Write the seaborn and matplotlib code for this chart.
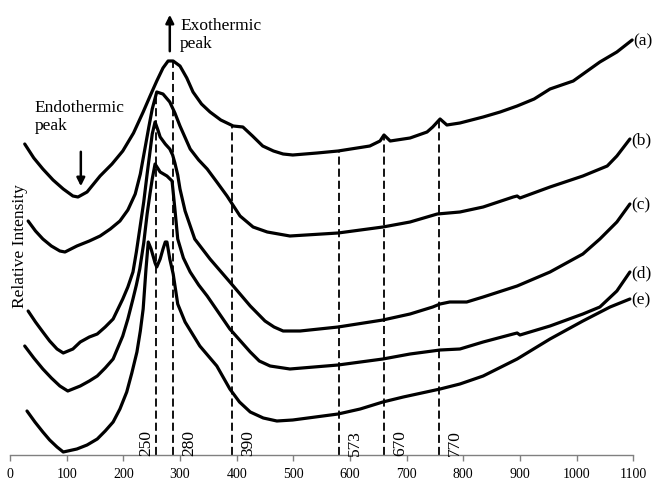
import numpy as np
import pandas as pd
import matplotlib
matplotlib.use("Agg")
import matplotlib.pyplot as plt
import seaborn as sns

# ── Data (temperature in °C, relative intensity in arbitrary units) ──
temp_a = [26, 42, 58, 76, 94, 111, 120, 136, 159, 180, 199, 218, 235, 248, 259, 270, 279, 288,
          300, 312, 323, 338, 353, 372, 394, 411, 428, 446, 465, 482, 499, 542, 579, 635, 653,
          660, 671, 706, 736, 746, 759, 771, 794, 835, 865, 895, 925, 953, 994, 1041, 1071, 1098]
int_a = [311, 297, 286, 275, 266, 259, 258, 263, 279, 291, 304, 322, 343, 360, 374, 387, 394, 394,
         389, 377, 363, 351, 343, 335, 329, 328, 319, 309, 304, 301, 300, 302, 304, 309, 314,
         320, 314, 317, 323, 328, 336, 330, 332, 338, 343, 349, 356, 366, 374, 393, 403, 415]

temp_b = [32, 45, 58, 73, 88, 97, 118, 140, 159, 177, 194, 208, 221, 230, 238, 245, 251, 259,
          270, 282, 291, 300, 318, 333, 348, 365, 383, 406, 429, 454, 494, 579, 658, 706, 754,
          794, 835, 888, 895, 900, 953, 1011, 1054, 1071, 1094]
int_b = [234, 224, 216, 209, 204, 203, 209, 214, 219, 226, 234, 245, 261, 281, 306, 328, 346, 363,
         361, 353, 342, 329, 306, 295, 286, 273, 259, 239, 228, 223, 219, 222, 228, 233, 241,
         243, 248, 258, 259, 257, 268, 279, 289, 299, 316]

temp_c = [32, 45, 58, 70, 83, 94, 111, 124, 140, 154, 168, 182, 199, 208, 217, 223, 229, 236,
          242, 247, 251, 256, 261, 265, 274, 282, 287, 291, 296, 300, 309, 326, 353, 388, 424,
          450, 466, 482, 512, 579, 658, 706, 746, 759, 776, 806, 835, 895, 953, 1011, 1041,
          1071, 1094]
int_c = [144, 133, 123, 114, 106, 102, 106, 113, 118, 121, 128, 136, 156, 168, 183, 203, 226, 253,
         281, 303, 321, 333, 325, 318, 311, 306, 300, 292, 280, 266, 244, 216, 196, 173, 149,
         134, 128, 124, 124, 128, 135, 141, 148, 151, 153, 153, 158, 169, 183, 201, 216,
         233, 251]

temp_d = [26, 42, 58, 73, 88, 102, 124, 140, 154, 168, 182, 199, 208, 217, 223, 229, 236, 242,
          247, 251, 256, 265, 277, 286, 291, 296, 306, 318, 333, 348, 388, 424, 440, 459, 494,
          579, 658, 706, 759, 794, 835, 888, 895, 900, 953, 1011, 1041, 1071, 1094]
int_d = [109, 97, 86, 77, 69, 64, 69, 74, 79, 87, 96, 119, 136, 156, 170, 186, 212, 241,
         261, 276, 291, 283, 279, 274, 246, 216, 197, 183, 170, 159, 126, 103, 94, 89, 86,
         90, 96, 101, 105, 106, 113, 121, 122, 120, 129, 141, 148, 164, 183]

temp_e = [30, 44, 58, 70, 83, 94, 118, 136, 154, 168, 182, 194, 206, 215, 224, 230, 235, 240,
          244, 249, 256, 259, 265, 270, 274, 277, 282, 288, 296, 309, 322, 335, 350, 365, 388,
          405, 424, 447, 471, 499, 579, 618, 658, 694, 759, 794, 835, 895, 953, 1011, 1059, 1094]
int_e = [44, 33, 23, 15, 8, 3, 6, 10, 16, 24, 33, 46, 63, 82, 103, 124, 146, 186,
         213, 206, 192, 188, 196, 206, 213, 213, 196, 181, 151, 133, 121, 109, 99, 89, 66,
         53, 43, 37, 34, 35, 41, 46, 53, 58, 66, 71, 79, 96, 116, 134, 148, 156]

samples = ["a", "b", "c", "d", "e"]
temps = [temp_a, temp_b, temp_c, temp_d, temp_e]
ints = [int_a, int_b, int_c, int_d, int_e]

# dashed reference lines: where they sit, and the text written on them
ref_pos = [257, 288, 391, 580, 660, 757]
ref_text = ["250", "280", "390", "573", "670", "770"]
ref_curve = ["b", "a", "a", "a", "a", "a"]   # curve each dashed line reaches up to

xticks = list(range(0, 1101, 100))

# ── Build long-form table ──────────────────────────────
frames = []
for s, t, v in zip(samples, temps, ints):
    frames.append(pd.DataFrame({"temp": t, "intensity": v, "sample": s}))
df = pd.concat(frames, ignore_index=True)

# ── Plot ───────────────────────────────────────────────
sns.set_theme(style="white")
plt.rcParams["font.family"] = ["Liberation Serif", "DejaVu Serif"]
plt.rcParams["text.color"] = "black"
plt.rcParams["xtick.color"] = "#808080"
plt.rcParams["xtick.labelcolor"] = "black"

fig = plt.figure(figsize=(6.56, 4.81), dpi=100)
ax = fig.add_axes([10 / 656, 25 / 481, 623.3 / 656, 456 / 481])

sns.lineplot(data=df, x="temp", y="intensity", hue="sample", units="sample",
             estimator=None, sort=False, palette=["black"] * 5, lw=2.3,
             legend=False, ax=ax)
for ln in ax.lines:
    ln.set_solid_joinstyle("round")
    ln.set_solid_capstyle("round")
    ln.set_clip_on(False)

# dashed markers from the axis up to the curve
curve_lookup = dict(zip(samples, zip(temps, ints)))
for pos, txt, cname in zip(ref_pos, ref_text, ref_curve):
    ct, ci = curve_lookup[cname]
    top = np.interp(pos, ct, ci)
    ax.vlines(pos, 0, top, colors="black", linestyles=(0, (4.5, 2.2)), lw=1.3)
    if txt == "250":
        ax.annotate(txt, xy=(pos, 0), xytext=(-1, 0), textcoords="offset points",
                    rotation=90, ha="right", va="bottom", fontsize=12.5)
    else:
        ax.annotate(txt, xy=(pos, 0), xytext=(6, 0), textcoords="offset points",
                    rotation=90, ha="left", va="bottom", fontsize=12.5)

# curve labels at the right end
for s, t, v in zip(samples, temps, ints):
    ax.annotate(f"({s})", xy=(t[-1], v[-1]), xytext=(1, 0), textcoords="offset points",
                ha="left", va="center", fontsize=12.5)

# peak annotations
ax.annotate("", xy=(282, 443), xytext=(282, 401),
            arrowprops=dict(arrowstyle="-|>", color="black", lw=1.8, mutation_scale=12))
ax.text(300, 438, "Exothermic\npeak", ha="left", va="top", fontsize=12.5)
ax.annotate("", xy=(125, 266), xytext=(125, 306),
            arrowprops=dict(arrowstyle="-|>", color="black", lw=1.8, mutation_scale=12))
ax.text(44, 356, "Endothermic\npeak", ha="left", va="top", fontsize=12.5)

ax.text(0.016, 0.46, "Relative Intensity", transform=ax.transAxes, rotation=90,
        ha="center", va="center", fontsize=12.5)

ax.set_xlim(0, 1100)
ax.set_ylim(0, 456)
ax.set_xticks(xticks)
ax.set_yticks([])
ax.set_xlabel("")
ax.set_ylabel("")
for side in ["top", "right", "left"]:
    ax.spines[side].set_visible(False)
ax.spines["bottom"].set_color("#808080")
ax.spines["bottom"].set_linewidth(1.0)
ax.tick_params(axis="x", direction="out", length=4, width=1,
               labelsize=10, pad=5, bottom=True)
ax.set_facecolor("none")

fig.savefig("out.png", dpi=100)
